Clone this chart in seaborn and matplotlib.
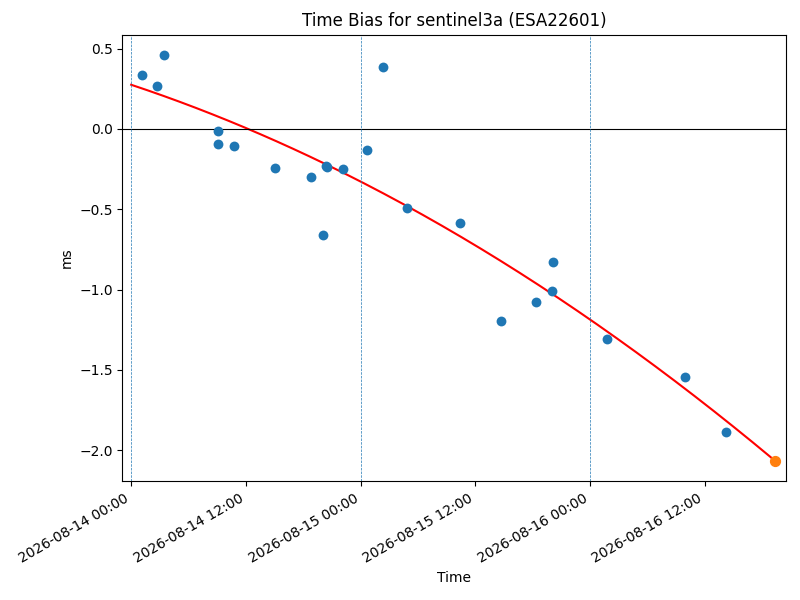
import numpy as np
import pandas as pd
import matplotlib
matplotlib.use("Agg")
import matplotlib.pyplot as plt
import matplotlib.dates as mdates
import seaborn as sns

# hours after 2026-08-14 00:00 and measured time bias (ms)
start = pd.Timestamp("2026-08-14 00:00")
hours = [1.13, 2.74, 3.43, 9.08, 9.08, 10.76, 15.05, 18.79, 20.43, 20.5,
         22.17, 20.08, 24.65, 26.36, 28.87, 34.41, 38.67, 42.37, 44.04,
         44.15, 49.80, 57.96, 62.22]
bias = [0.337, 0.267, 0.460, -0.014, -0.096, -0.106, -0.245, -0.300, -0.233,
        -0.238, -0.252, -0.657, -0.133, 0.385, -0.489, -0.583, -1.194, -1.076,
        -1.007, -0.826, -1.307, -1.544, -1.888]
pred_hour = 67.38
day_lines = ["2026-08-14", "2026-08-15", "2026-08-16"]

df = pd.DataFrame({"Time": start + pd.to_timedelta(hours, unit="h"), "ms": bias})

# quadratic trend
coef = np.polyfit(hours, bias, 2)
fit_h = np.linspace(0, pred_hour, 200)
fit_t = start + pd.to_timedelta(fit_h, unit="h")
fit_v = np.polyval(coef, fit_h)
pred_t = start + pd.Timedelta(hours=pred_hour)
pred_v = np.polyval(coef, pred_hour)

fig, ax = plt.subplots(figsize=(8, 6), dpi=100)
sns.scatterplot(data=df, x="Time", y="ms", color="C0", s=50, linewidth=0, ax=ax, zorder=3)
ax.plot(fit_t, fit_v, color="red", zorder=2)
ax.scatter([pred_t], [pred_v], color="C1", s=50, zorder=4)
ax.axhline(0, color="black", linewidth=0.8)
for d in day_lines:
    ax.axvline(pd.Timestamp(d), color="C0", linestyle="--", linewidth=0.5)

ax.set_xlim(start - pd.Timedelta(hours=0.92), start + pd.Timedelta(hours=68.47))
ax.xaxis.set_major_locator(mdates.HourLocator(byhour=[0, 12]))
ax.xaxis.set_major_formatter(mdates.DateFormatter("%Y-%m-%d %H:%M"))
ax.set_title("Time Bias for sentinel3a (ESA22601)")
ax.set_xlabel("Time")
ax.set_ylabel("ms")
plt.setp(ax.get_xticklabels(), rotation=30, ha="right")
fig.subplots_adjust(left=0.153, right=0.982, top=0.942, bottom=0.198)
fig.savefig("out.png", dpi=100)
